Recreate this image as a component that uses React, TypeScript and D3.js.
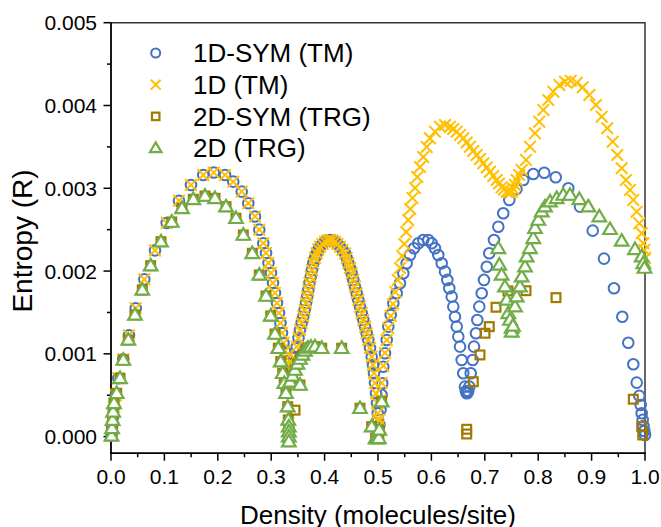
import React from "react";
import * as d3 from "d3";

type P = [number, number];

// 1D-SYM (TM) and 1D (TM) coincide for density 0 – 0.5
const tm1DLow: P[] = [
  [0.001, 0.00002], [0.002, 0.00012], [0.004, 0.00024], [0.006, 0.00036], [0.009, 0.0005],
  [0.0137, 0.000705], [0.023, 0.000935], [0.0337, 0.001225], [0.0463, 0.00155], [0.0624, 0.0019],
  [0.0824, 0.00225], [0.1043, 0.00258], [0.1273, 0.00285], [0.1498, 0.00304], [0.1728, 0.00316],
  [0.1925, 0.00319], [0.2135, 0.00316], [0.229, 0.00308], [0.2448, 0.00296], [0.2571, 0.00282],
  [0.2697, 0.00266], [0.2777, 0.0025], [0.2852, 0.002336], [0.2903, 0.002219], [0.2949, 0.002098],
  [0.2996, 0.001977], [0.3034, 0.001856], [0.3071, 0.001736], [0.3109, 0.001615], [0.3146, 0.001494],
  [0.3174, 0.001373], [0.3202, 0.001252], [0.323, 0.001132], [0.3258, 0.001035], [0.3287, 0.00095],
  [0.3315, 0.000878], [0.3333, 0.00083], [0.3384, 0.000845], [0.3427, 0.00095], [0.3478, 0.001087],
  [0.3511, 0.00119], [0.3539, 0.001289], [0.3571, 0.001373], [0.3601, 0.001449], [0.3627, 0.00153],
  [0.3652, 0.001615], [0.3674, 0.001693], [0.3695, 0.001772], [0.3717, 0.001856], [0.374, 0.001932],
  [0.3764, 0.002013], [0.3788, 0.002094], [0.382, 0.002158], [0.3852, 0.002215], [0.3882, 0.002261],
  [0.3914, 0.002295], [0.396, 0.002327], [0.4007, 0.002355], [0.4054, 0.00237], [0.4101, 0.002376],
  [0.4148, 0.00237], [0.4195, 0.002355], [0.4242, 0.002327], [0.4288, 0.002295], [0.4335, 0.002255],
  [0.4382, 0.002215], [0.4414, 0.002158], [0.4444, 0.002094], [0.4476, 0.002037], [0.4507, 0.001973],
  [0.4537, 0.001893], [0.4569, 0.001812], [0.4601, 0.001732], [0.4631, 0.001651], [0.4663, 0.00157],
  [0.4695, 0.00149], [0.4725, 0.001409], [0.4757, 0.001329], [0.4788, 0.001249], [0.4818, 0.001168],
  [0.485, 0.001071], [0.4882, 0.000966], [0.4906, 0.000866], [0.4925, 0.000766], [0.4944, 0.000649],
  [0.4963, 0.000524], [0.4981, 0.000407], [0.4994, 0.000283], [0.5, 0.000202], [0.5, 0.000121],
  [0.5, 0.00006], [0.5, 0.00001],
];

const sym1DHigh: P[] = [
  [0.5028, 0.000141], [0.5047, 0.000322], [0.5069, 0.000504], [0.508, 0.000645], [0.5099, 0.000845],
  [0.5131, 0.001007], [0.5163, 0.001168], [0.5193, 0.001329], [0.5238, 0.00147], [0.5287, 0.001611],
  [0.535, 0.001732], [0.5412, 0.001853], [0.5474, 0.001973], [0.5537, 0.002094], [0.5599, 0.002194],
  [0.5674, 0.002275], [0.5755, 0.002336], [0.5848, 0.002376], [0.5942, 0.002376], [0.6006, 0.002336],
  [0.6067, 0.002275], [0.6129, 0.002194], [0.6193, 0.002094], [0.6255, 0.001993], [0.6298, 0.001893],
  [0.6335, 0.001792], [0.638, 0.001691], [0.641, 0.00157], [0.6442, 0.001449], [0.6474, 0.001329],
  [0.6504, 0.001208], [0.6536, 0.001087], [0.6567, 0.000926], [0.6597, 0.000766], [0.6629, 0.000604],
  [0.6645, 0.00055], [0.6661, 0.000524], [0.6677, 0.00053], [0.669, 0.00055], [0.671, 0.000604],
  [0.6736, 0.000766], [0.6773, 0.000926], [0.6798, 0.001087], [0.6835, 0.001249], [0.686, 0.001409],
  [0.6897, 0.00157], [0.6942, 0.001732], [0.6985, 0.001893], [0.7036, 0.002053], [0.7084, 0.002215],
  [0.7172, 0.002376], [0.7253, 0.002536], [0.7346, 0.002698], [0.7459, 0.002859], [0.7594, 0.00299],
  [0.7721, 0.0031], [0.7908, 0.003173], [0.8114, 0.003188], [0.8328, 0.003133], [0.8564, 0.003],
  [0.8783, 0.002778], [0.9021, 0.002488], [0.9232, 0.00215], [0.9419, 0.001792], [0.9575, 0.001449],
  [0.9687, 0.001135], [0.9781, 0.000874], [0.9845, 0.000652], [0.9893, 0.000492], [0.9919, 0.000383],
  [0.9938, 0.000283], [0.9957, 0.000202], [0.9972, 0.000129], [0.9987, 0.000069], [1.0, 0.00002],
];

const tm1DHigh: P[] = [
  [0.5028, 0.000202], [0.5047, 0.000443], [0.5069, 0.000649], [0.5099, 0.000854], [0.5131, 0.001011],
  [0.5163, 0.001168], [0.5193, 0.001313], [0.5238, 0.001458], [0.5281, 0.001603], [0.5324, 0.001748],
  [0.5369, 0.001893], [0.5412, 0.002037], [0.5455, 0.002182], [0.5493, 0.002327], [0.553, 0.002472],
  [0.5567, 0.002617], [0.5605, 0.00275], [0.5646, 0.002883], [0.5693, 0.003004], [0.5736, 0.003136],
  [0.5787, 0.003257], [0.5848, 0.003378], [0.5912, 0.003499], [0.5974, 0.003604], [0.6067, 0.003684],
  [0.6161, 0.003744], [0.6255, 0.003764], [0.6348, 0.003744], [0.641, 0.003716], [0.6474, 0.003684],
  [0.6536, 0.003644], [0.6597, 0.003604], [0.6661, 0.003553], [0.6723, 0.003502], [0.6785, 0.00345],
  [0.6848, 0.003402], [0.691, 0.003354], [0.6972, 0.003302], [0.7036, 0.003251], [0.7097, 0.0032],
  [0.7159, 0.003149], [0.7223, 0.0031], [0.7266, 0.003058], [0.7316, 0.003012], [0.736, 0.002986],
  [0.741, 0.002959], [0.7453, 0.002952], [0.7504, 0.002959], [0.7537, 0.002992], [0.7565, 0.00304],
  [0.7597, 0.0031], [0.7644, 0.00316], [0.7691, 0.003221], [0.7772, 0.003342], [0.7846, 0.003502],
  [0.794, 0.003664], [0.802, 0.003804], [0.8096, 0.003946], [0.8189, 0.004066], [0.8283, 0.004167],
  [0.8395, 0.004248], [0.8502, 0.004287], [0.8609, 0.0043], [0.8721, 0.004275], [0.8833, 0.00422],
  [0.8957, 0.004127], [0.9082, 0.004006], [0.9189, 0.003865], [0.9294, 0.003725], [0.9395, 0.003563],
  [0.9481, 0.003402], [0.9564, 0.003242], [0.9644, 0.0031], [0.9719, 0.00298], [0.9781, 0.002859],
  [0.9845, 0.002717], [0.9893, 0.002577], [0.9938, 0.002457], [0.9968, 0.002336], [0.9987, 0.002255],
  [1.0, 0.002158],
];

// 2D-SYM (TRG) and 2D (TRG) coincide for density 0 – 0.5
const trg2DLow: P[] = [
  [0.001, 0.00001], [0.002, 0.0001], [0.003, 0.0002], [0.004, 0.0003], [0.0056, 0.000403],
  [0.0107, 0.000524], [0.0169, 0.000705], [0.023, 0.000926], [0.0324, 0.001168], [0.0449, 0.00147],
  [0.0586, 0.001772], [0.0743, 0.002065], [0.0936, 0.002355], [0.1137, 0.002593], [0.133, 0.002758],
  [0.1541, 0.002867], [0.176, 0.002907], [0.1948, 0.002879], [0.2154, 0.002778], [0.2341, 0.002638],
  [0.2478, 0.002436], [0.2646, 0.002215], [0.2777, 0.001953], [0.2903, 0.001699], [0.2991, 0.001458],
  [0.3071, 0.00124], [0.3133, 0.001068], [0.3178, 0.000906], [0.3216, 0.000766], [0.3245, 0.000645],
  [0.3277, 0.000524], [0.3309, 0.000362], [0.332, 0.000202], [0.333, 0.00012], [0.333, 0.00006],
  [0.333, 0.0], [0.333, -0.00006], [0.3352, 0.000661], [0.3399, 0.000733], [0.3446, 0.000805],
  [0.3492, 0.000878], [0.3539, 0.000938], [0.3586, 0.000987], [0.3633, 0.001035], [0.3689, 0.001071],
  [0.3745, 0.001083], [0.382, 0.001087], [0.3946, 0.001068], [0.432, 0.001068], [0.3539, 0.000624],
  [0.4663, 0.000343], [0.4882, 0.000121], [0.4955, -0.00002], [0.4975, -0.00002], [0.4995, -0.00002],
  [0.5015, -0.00002], [0.5025, 0.000081], [0.5069, 0.000423],
];

const trg2DHigh: P[] = [
  [0.7253, 0.002275], [0.7272, 0.002074], [0.7316, 0.001953], [0.7378, 0.001812], [0.741, 0.001651],
  [0.744, 0.00149], [0.7472, 0.001409], [0.7504, 0.001313], [0.7504, 0.001265], [0.7528, 0.001337],
  [0.7566, 0.00157], [0.7597, 0.001691], [0.7659, 0.001812], [0.7691, 0.001932], [0.7753, 0.002053],
  [0.7784, 0.002174], [0.7846, 0.002275], [0.7908, 0.002396], [0.794, 0.002517], [0.8002, 0.002617],
  [0.8066, 0.002717], [0.8127, 0.002778], [0.8221, 0.002838], [0.8346, 0.002879], [0.847, 0.002919],
  [0.8596, 0.002919], [0.877, 0.002867], [0.8938, 0.002778], [0.9144, 0.002657], [0.9345, 0.002505],
  [0.9564, 0.002364], [0.9813, 0.002263], [0.9938, 0.002174], [0.9968, 0.002094], [0.999, 0.002037],
];

const sym2DHigh: P[] = [
  [0.3446, 0.00032], [0.6661, 0.000089], [0.6661, 0.000032], [0.6785, 0.000664], [0.691, 0.000987],
  [0.7004, 0.001249], [0.7084, 0.001329], [0.721, 0.001563], [0.7434, 0.00176], [0.7772, 0.001763],
  [0.8333, 0.001679], [0.9781, 0.000452], [0.9938, 0.000121], [0.9957, 0.00002],
];

const legendLabels = ["1D-SYM (TM)", "1D (TM)", "2D-SYM (TRG)", "2D (TRG)"];
const xTicks = [0, 0.1, 0.2, 0.3, 0.4, 0.5, 0.6, 0.7, 0.8, 0.9, 1.0];
const yTicks = [0, 0.001, 0.002, 0.003, 0.004, 0.005];

const BLUE = "#4472C4";
const YELLOW = "#FFC000";
const BROWN = "#A27A00";
const GREEN = "#70AD47";
const FONT = "Arial, 'Liberation Sans', sans-serif";

type Kind = "circle" | "cross" | "square" | "triangle";

function Marker({ kind, x, y, s = 1 }: { kind: Kind; x: number; y: number; s?: number }) {
  if (kind === "circle")
    return <circle cx={x} cy={y} r={5.3 * s} fill="none" stroke={BLUE} strokeWidth={2} />;
  if (kind === "cross") {
    const h = 5.8 * s;
    return (
      <path
        d={`M${x - h},${y - h}L${x + h},${y + h}M${x - h},${y + h}L${x + h},${y - h}`}
        stroke={YELLOW}
        strokeWidth={2}
        fill="none"
      />
    );
  }
  if (kind === "square") {
    const h = 4.4 * s;
    return <rect x={x - h} y={y - h} width={2 * h} height={2 * h} fill="none" stroke={BROWN} strokeWidth={2.2} />;
  }
  const a = 6.8 * s;
  return (
    <path
      d={`M${x},${y - a}L${x + a},${y + a * 0.7}L${x - a},${y + a * 0.7}Z`}
      fill="#fff"
      stroke={GREEN}
      strokeWidth={2.2}
      strokeLinejoin="miter"
    />
  );
}

export default function App() {
  const W = 661;
  const H = 527;
  const x = d3.scaleLinear().domain([0, 1]).range([111, 645]);
  const y = d3.scaleLinear().domain([-0.0002, 0.005]).range([453.2, 22.7]);

  const series: { kind: Kind; data: P[] }[] = [
    { kind: "circle", data: [...tm1DLow, ...sym1DHigh] },
    { kind: "cross", data: [...tm1DLow, ...tm1DHigh] },
    { kind: "square", data: [...trg2DLow, ...sym2DHigh] },
    { kind: "triangle", data: [...trg2DLow, ...trg2DHigh] },
  ];

  const x0 = x(0);
  const x1 = x(1);
  const yTop = y(0.005);
  const yBot = y(-0.0002);
  const xMinor = d3.range(0.05, 1, 0.1);
  const yMinor = d3.range(0.0005, 0.005, 0.001);
  const legendKinds: Kind[] = ["circle", "cross", "square", "triangle"];

  return (
    <svg
      width={W}
      height={H}
      style={{ position: "absolute", left: 0, top: 0, background: "#fff" }}
      fontFamily={FONT}
    >
      <rect width={W} height={H} fill="#fff" />
      {/* frame */}
      <path d={`M${x0},${yTop}H${x1}V${yBot}`} fill="none" stroke="#333" strokeWidth={1.5} />
      <line x1={x0} x2={x0} y1={yTop} y2={yBot + 0.75} stroke="#000" strokeWidth={1.8} />
      <line x1={x0 - 0.9} x2={x1 + 0.75} y1={yBot} y2={yBot} stroke="#000" strokeWidth={1.8} />

      {/* x ticks */}
      {xTicks.map((t) => (
        <g key={"xt" + t}>
          <line x1={x(t)} x2={x(t)} y1={yBot} y2={yBot + 7.5} stroke="#000" strokeWidth={1.5} />
          <text x={x(t)} y={484} fontSize={21} textAnchor="middle" fill="#000">
            {t.toFixed(1)}
          </text>
        </g>
      ))}
      {xMinor.map((t) => (
        <line key={"xm" + t} x1={x(t)} x2={x(t)} y1={yBot} y2={yBot + 4} stroke="#000" strokeWidth={1.5} />
      ))}

      {/* y ticks */}
      {yTicks.map((t) => (
        <g key={"yt" + t}>
          <line x1={x0} x2={x0 - 7.5} y1={y(t)} y2={y(t)} stroke="#000" strokeWidth={1.5} />
          <text x={97} y={y(t) + 7.5} fontSize={21} textAnchor="end" fill="#000">
            {t.toFixed(3)}
          </text>
        </g>
      ))}
      {yMinor.map((t) => (
        <line key={"ym" + t} x1={x0} x2={x0 - 4} y1={y(t)} y2={y(t)} stroke="#000" strokeWidth={1.5} />
      ))}

      {/* axis titles */}
      <text x={(x0 + x1) / 2} y={524} fontSize={26} textAnchor="middle" fill="#000">
        Density (molecules/site)
      </text>
      <text
        transform={`translate(32,241) rotate(-90)`}
        fontSize={28}
        textAnchor="middle"
        fill="#000"
      >
        Entropy (R)
      </text>

      {/* data */}
      {series.map((s, si) => (
        <g key={"s" + si}>
          {s.data.map((d, i) => (
            <Marker key={i} kind={s.kind} x={x(d[0])} y={y(d[1])} />
          ))}
        </g>
      ))}

      {/* legend */}
      {legendLabels.map((lab, i) => {
        const cy = 53 + i * 31.7;
        return (
          <g key={"lg" + i}>
            <Marker kind={legendKinds[i]} x={155.7} y={cy} s={0.85} />
            <text x={193} y={cy + 9.3} fontSize={26} fill="#000">
              {lab}
            </text>
          </g>
        );
      })}
    </svg>
  );
}
